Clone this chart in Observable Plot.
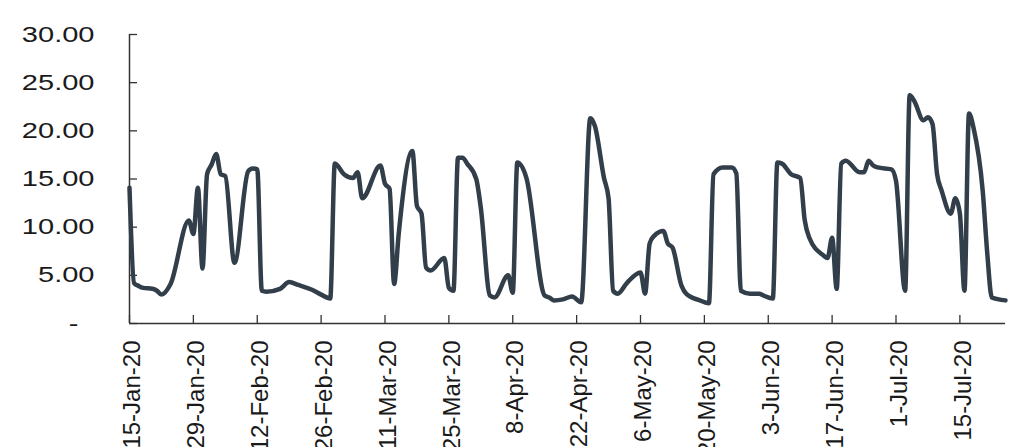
<!DOCTYPE html>
<html><head><meta charset="utf-8">
<script src="https://cdn.jsdelivr.net/npm/d3@7"></script>
<script src="https://cdn.jsdelivr.net/npm/@observablehq/plot@0.6"></script>
<style>body{margin:0;background:#fff;} svg{display:block}</style>
</head><body><div id="chart"></div>
<script>
const dates = [
 "2020-01-15","2020-01-16","2020-01-17","2020-01-18","2020-01-20","2020-01-21","2020-01-22","2020-01-24",
 "2020-01-28","2020-01-29","2020-01-30","2020-01-31","2020-02-01","2020-02-02","2020-02-03","2020-02-04",
 "2020-02-05","2020-02-07","2020-02-10","2020-02-11","2020-02-12","2020-02-13","2020-02-14","2020-02-17",
 "2020-02-19","2020-02-21","2020-02-24","2020-02-26","2020-02-28","2020-02-29","2020-03-02","2020-03-04",
 "2020-03-05","2020-03-06","2020-03-10","2020-03-11","2020-03-12","2020-03-13","2020-03-14","2020-03-17",
 "2020-03-18","2020-03-19","2020-03-20","2020-03-21","2020-03-24","2020-03-25","2020-03-26","2020-03-27",
 "2020-03-28","2020-03-29","2020-03-31","2020-04-01","2020-04-03","2020-04-04","2020-04-07","2020-04-08",
 "2020-04-09","2020-04-11","2020-04-15","2020-04-16","2020-04-17","2020-04-19","2020-04-21","2020-04-23",
 "2020-04-25","2020-04-26","2020-04-28","2020-04-29","2020-04-30","2020-05-01","2020-05-03","2020-05-06",
 "2020-05-07","2020-05-08","2020-05-09","2020-05-11","2020-05-12","2020-05-13","2020-05-15","2020-05-16",
 "2020-05-19","2020-05-21","2020-05-22","2020-05-24","2020-05-26","2020-05-27","2020-05-28","2020-05-30",
 "2020-06-01","2020-06-02","2020-06-04","2020-06-05","2020-06-06","2020-06-08","2020-06-10","2020-06-11",
 "2020-06-12","2020-06-15","2020-06-16","2020-06-17","2020-06-18","2020-06-19","2020-06-20","2020-06-23",
 "2020-06-24","2020-06-25","2020-06-26","2020-06-27","2020-06-30","2020-07-01","2020-07-03","2020-07-04",
 "2020-07-05","2020-07-07","2020-07-08","2020-07-09","2020-07-10","2020-07-11","2020-07-13","2020-07-14",
 "2020-07-15","2020-07-16","2020-07-17","2020-07-18","2020-07-20","2020-07-21","2020-07-22","2020-07-25"
];
const values = [
 14.1,4.2,3.9,3.7,3.6,3.4,3.0,4.1,
 10.7,9.3,14.1,5.7,15.5,16.5,17.6,15.5,
 15.3,6.3,15.8,16.1,16.0,3.4,3.3,3.6,
 4.3,4.0,3.5,3.0,2.6,16.6,15.5,15.1,
 15.7,13.0,16.4,14.5,14.0,4.1,9.3,17.9,
 12.2,11.4,5.8,5.5,6.8,3.7,3.4,17.2,
 17.2,16.6,15.0,12.0,2.9,2.7,5.0,3.2,
 16.7,15.1,2.9,2.7,2.4,2.5,2.8,2.2,
 21.3,20.5,15.1,13.0,3.4,3.1,4.2,5.3,
 3.1,8.3,9.1,9.6,8.3,7.9,3.9,3.1,
 2.4,2.1,15.5,16.2,16.2,15.6,3.4,3.1,
 3.1,2.9,2.6,16.7,16.6,15.5,15.1,10.7,
 8.9,7.1,6.8,8.9,3.6,16.6,16.9,15.7,
 15.7,16.9,16.4,16.2,16.0,14.8,3.4,23.7,
 23.1,21.1,21.4,20.7,15.5,13.8,11.4,13.0,
 11.4,3.4,21.8,20.3,13.8,7.3,2.7,2.4
];
const xTicks = ["2020-01-15","2020-01-29","2020-02-12","2020-02-26","2020-03-11","2020-03-25","2020-04-08",
 "2020-04-22","2020-05-06","2020-05-20","2020-06-03","2020-06-17","2020-07-01","2020-07-15"];
const yTicks = [0,5,10,15,20,25,30];

const data = dates.map((d,i)=>({date:new Date(d), value:values[i]}));
const xTickDates = xTicks.map(d=>new Date(d));
const W=1017,H=447,mL=129,mR=12,mT=34,mB=124;
const fw=W-mL-mR, fh=H-mT-mB;
const fmt = d3.utcFormat("%-d-%b-%y");
const axisColor = "#333";
const plot = Plot.plot({
  width:W, height:H, marginLeft:mL, marginRight:mR, marginTop:mT, marginBottom:mB,
  style:{fontFamily:"'Liberation Sans', Arial, sans-serif", color:"#1a1a1a", background:"#fff"},
  x:{type:"utc", domain:[new Date(dates[0]), new Date(dates[dates.length-1])], label:null},
  y:{domain:[0,30], label:null},
  marks:[
    Plot.axisY({ticks:yTicks, tickSize:0, tickPadding:35, fontSize:22, label:null,
      tickFormat:v => v===0 ? "-\u00a0\u00a0" : v.toFixed(2)}),
    Plot.axisX({ticks:xTickDates, tickSize:0, tickPadding:17, tickRotate:-90, fontSize:24, dx:3,
      label:null, tickFormat:fmt}),
    Plot.tickY(yTicks, {y:d=>d, insetRight:fw-8, stroke:axisColor, strokeWidth:1.3}),
    Plot.tickX(xTickDates, {x:d=>d, insetTop:fh-8, stroke:axisColor, strokeWidth:1.3}),
    Plot.ruleX([new Date(dates[0])], {stroke:axisColor, strokeWidth:1.5}),
    Plot.ruleY([0], {stroke:axisColor, strokeWidth:1.5}),
    Plot.line(data, {x:"date", y:"value", curve:"monotone-x", stroke:"#323f4a", strokeWidth:4.5,
      strokeLinejoin:"round", strokeLinecap:"round"})
  ]
});
plot.querySelectorAll('g[aria-label="y-axis tick label"] text').forEach(t => {
  const tr = t.getAttribute("transform") || "";
  t.setAttribute("transform", tr + " scale(1.32,1)");
});
document.getElementById("chart").appendChild(plot);
</script>
</body></html>
